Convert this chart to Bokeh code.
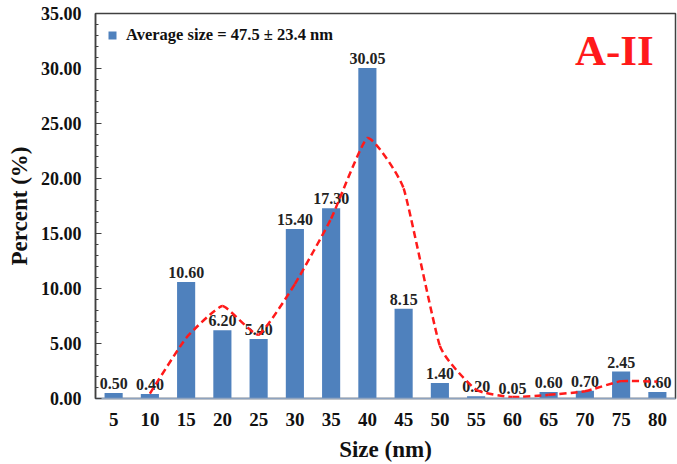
from bokeh.plotting import figure
from bokeh.models import ColumnDataSource, FixedTicker, NumeralTickFormatter, Range1d, Label, Legend, LegendItem
from bokeh.embed import file_html
from bokeh.resources import INLINE
from bokeh.core.properties import value

sizes = [5, 10, 15, 20, 25, 30, 35, 40, 45, 50, 55, 60, 65, 70, 75, 80]
percent = [0.50, 0.40, 10.60, 6.20, 5.40, 15.40, 17.30, 30.05, 8.15, 1.40, 0.20, 0.05, 0.60, 0.70, 2.45, 0.60]
trend_x = [10, 15, 20, 25, 30, 35, 40, 45, 50, 55, 60, 65, 70, 75, 80]
trend_y = [0.45, 5.50, 8.40, 5.80, 10.40, 16.35, 23.68, 19.10, 4.78, 0.80, 0.13, 0.33, 0.65, 1.58, 1.53]
legend_text = "Average size = 47.5 ± 23.4 nm"
panel_label = "A-II"

FONT = "Liberation Serif"
BLUE = "#4F81BD"
RED = "#FF1A1A"

p = figure(width=677, height=464, output_backend="svg", toolbar_location=None,
           x_range=Range1d(2.5, 82.5), y_range=Range1d(0, 35),
           min_border_left=95, min_border_right=2, min_border_top=13, min_border_bottom=65)
p.outline_line_color = "#404040"
p.outline_line_width = 1.5
p.xgrid.visible = False
p.ygrid.visible = False

src = ColumnDataSource(dict(x=sizes, y=percent, lbl=["%.2f" % v for v in percent]))
bars = p.vbar(x="x", top="y", width=2.5, source=src, fill_color=BLUE, line_color=None)

p.text(x="x", y="y", text="lbl", source=src, text_align="center", text_baseline="bottom",
       y_offset=-4, text_font=value(FONT), text_font_style="bold", text_font_size="16px", text_color="#222222")

# lightly smoothed curve through the trend points
K = 1.0 / 14.0
n = len(trend_x)
x0, y0, x1, y1, cx0, cy0, cx1, cy1 = [], [], [], [], [], [], [], []
for i in range(n - 1):
    im1 = max(i - 1, 0)
    ip2 = min(i + 2, n - 1)
    x0.append(trend_x[i]); y0.append(trend_y[i])
    x1.append(trend_x[i + 1]); y1.append(trend_y[i + 1])
    cx0.append(trend_x[i] + (trend_x[i + 1] - trend_x[im1]) * K)
    cy0.append(trend_y[i] + (trend_y[i + 1] - trend_y[im1]) * K)
    cx1.append(trend_x[i + 1] - (trend_x[ip2] - trend_x[i]) * K)
    cy1.append(trend_y[i + 1] - (trend_y[ip2] - trend_y[i]) * K)
p.bezier(x0=x0, y0=y0, x1=x1, y1=y1, cx0=cx0, cy0=cy0, cx1=cx1, cy1=cy1,
         line_color=RED, line_width=2.5, line_dash="7 4")

# axes
p.yaxis.ticker = FixedTicker(ticks=[0, 5, 10, 15, 20, 25, 30, 35],
                             minor_ticks=[i for i in range(0, 36)])
p.yaxis.formatter = NumeralTickFormatter(format="0.00")
p.yaxis.major_tick_in = 6
p.yaxis.major_tick_out = 0
p.yaxis.minor_tick_in = 3
p.yaxis.minor_tick_out = 0
p.yaxis.axis_line_color = "#404040"
p.yaxis.axis_line_width = 1.5
p.yaxis.major_tick_line_color = "#404040"
p.yaxis.minor_tick_line_color = "#404040"
p.yaxis.major_label_text_font = FONT
p.yaxis.major_label_text_font_style = "bold"
p.yaxis.major_label_text_font_size = "18px"
p.yaxis.major_label_text_color = "#111111"
p.yaxis.major_label_standoff = 14
p.yaxis.axis_label = "Percent (%)"
p.yaxis.axis_label_text_font = FONT
p.yaxis.axis_label_text_font_style = "bold"
p.yaxis.axis_label_text_font_size = "23px"
p.yaxis.axis_label_text_color = "#111111"
p.yaxis.axis_label_standoff = 6

p.xaxis.ticker = FixedTicker(ticks=sizes, minor_ticks=[])
p.xaxis.major_tick_in = 0
p.xaxis.major_tick_out = 0
p.xaxis.axis_line_color = "#8EA3BF"
p.xaxis.axis_line_width = 1.5
p.xaxis.major_label_text_font = FONT
p.xaxis.major_label_text_font_style = "bold"
p.xaxis.major_label_text_font_size = "19px"
p.xaxis.major_label_text_color = "#111111"
p.xaxis.major_label_standoff = 14
p.xaxis.axis_label = "Size (nm)"
p.xaxis.axis_label_text_font = FONT
p.xaxis.axis_label_text_font_style = "bold"
p.xaxis.axis_label_text_font_size = "23px"
p.xaxis.axis_label_text_color = "#111111"
p.xaxis.axis_label_standoff = 8

legend = Legend(items=[LegendItem(label=legend_text, renderers=[bars])], location="top_left",
                border_line_color=None, background_fill_alpha=0,
                label_text_font=FONT, label_text_font_style="bold", label_text_font_size="16.5px",
                label_text_color="#111111", glyph_width=10, glyph_height=10,
                margin=12, padding=4, label_standoff=9)
p.add_layout(legend)

p.add_layout(Label(x=79.5, y=31.6, text=panel_label, text_align="right", text_baseline="middle",
                   text_font=FONT, text_font_style="bold", text_font_size="43px", text_color=RED))

open("out.html", "w").write(file_html(p, INLINE))
